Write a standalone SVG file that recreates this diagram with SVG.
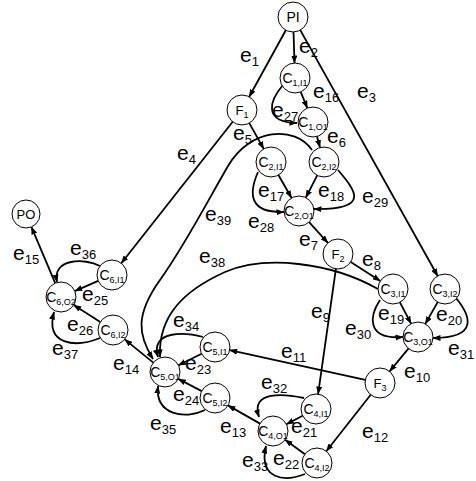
<svg xmlns="http://www.w3.org/2000/svg" width="476" height="481" viewBox="0 0 476 481">
<defs>
<marker id="ah" markerUnits="userSpaceOnUse" markerWidth="8" markerHeight="6" refX="7.5" refY="3" orient="auto">
<path d="M0,0 L8,3 L0,6 z" fill="#000"/>
</marker>
<style>
.e{fill:none;stroke:#000;stroke-width:1.8;marker-end:url(#ah)}
.n circle{fill:#fff;stroke:#000;stroke-width:1}
.n text{font-family:"Liberation Sans",Arial,sans-serif;fill:#000;text-anchor:middle}
.c{font-size:14px}
.cs{font-size:9px}
.l{font-family:"Liberation Sans",Arial,sans-serif;font-size:21px;fill:#000}
.ls{font-size:13px}
</style>
</defs>
<rect width="476" height="481" fill="#fff"/>
<g id="connectors">
<path class="e" d="M285.8,30.2 L249.2,96.8"/>
<path class="e" d="M293.5,32 L294.5,63"/>
<path class="e" d="M300.3,30.1 L437.7,276"/>
<path class="e" d="M232.7,121.8 L121.3,263.2"/>
<path class="e" d="M249.3,123.1 L263.7,148.9"/>
<path class="e" d="M317,136.5 L320,147.5"/>
<path class="e" d="M309.1,222.1 L327.9,242.9"/>
<path class="e" d="M350.7,262.1 L380.3,280.9"/>
<path class="e" d="M335.9,268.8 L318.1,394.1"/>
<path class="e" d="M408.4,348.6 L389.6,371.4"/>
<path class="e" d="M365.3,379.8 L229.7,350.2"/>
<path class="e" d="M370.7,394.8 L326.3,451.2"/>
<path class="e" d="M260,423.6 L228,405.4"/>
<path class="e" d="M153.3,362.6 L124.7,339.4"/>
<path class="e" d="M55.2,283.2 L31.4,226.9"/>
<path class="e" d="M300.7,91.9 L307.3,108.1"/>
<path class="e" d="M278.4,175 L291.6,198"/>
<path class="e" d="M317.2,175.4 L305.8,197.6"/>
<path class="e" d="M399.9,302.3 L411.1,323.7"/>
<path class="e" d="M437.7,302.1 L425.3,323.9"/>
<path class="e" d="M302.6,415.8 L286.4,424.2"/>
<path class="e" d="M304.9,454.2 L285.1,439.8"/>
<path class="e" d="M201.6,353.7 L178.4,365.3"/>
<path class="e" d="M201.7,391.1 L178.3,378.9"/>
<path class="e" d="M98.2,280.9 L74.8,291.1"/>
<path class="e" d="M100.3,322 L73.7,305"/>
<path class="e" d="M283,85 C270,100 262,122 297,123"/>
<path class="e" d="M258,172 C248,195 250,213 284,212"/>
<path class="e" d="M338,170 C355,190 372,210 314,209"/>
<path class="e" d="M380,300 C370,315 365,340 403,337"/>
<path class="e" d="M456,298 C470,315 480,338 433,338"/>
<path class="e" d="M304,398 C285,394 250,390 259,417"/>
<path class="e" d="M305,474 C285,482 258,480 266,446"/>
<path class="e" d="M203,337 C185,332 150,330 158,357"/>
<path class="e" d="M205,410 C185,420 155,415 158,386"/>
<path class="e" d="M100,266 C85,258 52,258 57,282"/>
<path class="e" d="M100,338 C75,348 45,345 54,312"/>
<path class="e" d="M378,289 C330,262 265,255 225,272 C185,290 158,315 160,357"/>
<path class="e" d="M312,150 C295,125 250,128 228,166 S185,245 160,280 S138,335 153,359"/>
</g>
<g class="l">
<text x="240" y="62">e<tspan class="ls" dy="4">1</tspan></text>
<text x="299" y="53">e<tspan class="ls" dy="4">2</tspan></text>
<text x="357" y="98">e<tspan class="ls" dy="4">3</tspan></text>
<text x="177" y="160">e<tspan class="ls" dy="4">4</tspan></text>
<text x="233" y="140">e<tspan class="ls" dy="4">5</tspan></text>
<text x="327" y="143">e<tspan class="ls" dy="4">6</tspan></text>
<text x="299" y="246">e<tspan class="ls" dy="4">7</tspan></text>
<text x="362" y="266">e<tspan class="ls" dy="4">8</tspan></text>
<text x="311" y="318">e<tspan class="ls" dy="4">9</tspan></text>
<text x="404" y="378">e<tspan class="ls" dy="4">10</tspan></text>
<text x="281" y="358">e<tspan class="ls" dy="4">11</tspan></text>
<text x="362" y="438">e<tspan class="ls" dy="4">12</tspan></text>
<text x="220" y="433">e<tspan class="ls" dy="4">13</tspan></text>
<text x="113" y="370">e<tspan class="ls" dy="4">14</tspan></text>
<text x="13" y="260">e<tspan class="ls" dy="4">15</tspan></text>
<text x="313" y="98">e<tspan class="ls" dy="4">16</tspan></text>
<text x="258" y="197">e<tspan class="ls" dy="4">17</tspan></text>
<text x="318" y="197">e<tspan class="ls" dy="4">18</tspan></text>
<text x="378" y="320">e<tspan class="ls" dy="4">19</tspan></text>
<text x="436" y="321">e<tspan class="ls" dy="4">20</tspan></text>
<text x="291" y="433">e<tspan class="ls" dy="4">21</tspan></text>
<text x="273" y="465">e<tspan class="ls" dy="4">22</tspan></text>
<text x="185" y="370">e<tspan class="ls" dy="4">23</tspan></text>
<text x="173" y="401">e<tspan class="ls" dy="4">24</tspan></text>
<text x="82" y="301">e<tspan class="ls" dy="4">25</tspan></text>
<text x="67" y="331">e<tspan class="ls" dy="4">26</tspan></text>
<text x="272" y="117">e<tspan class="ls" dy="4">27</tspan></text>
<text x="248" y="228">e<tspan class="ls" dy="4">28</tspan></text>
<text x="362" y="203">e<tspan class="ls" dy="4">29</tspan></text>
<text x="345" y="335">e<tspan class="ls" dy="4">30</tspan></text>
<text x="448" y="355">e<tspan class="ls" dy="4">31</tspan></text>
<text x="261" y="389">e<tspan class="ls" dy="4">32</tspan></text>
<text x="242" y="467">e<tspan class="ls" dy="4">33</tspan></text>
<text x="173" y="327">e<tspan class="ls" dy="4">34</tspan></text>
<text x="150" y="430">e<tspan class="ls" dy="4">35</tspan></text>
<text x="70" y="255">e<tspan class="ls" dy="4">36</tspan></text>
<text x="52" y="355">e<tspan class="ls" dy="4">37</tspan></text>
<text x="199" y="263">e<tspan class="ls" dy="4">38</tspan></text>
<text x="205" y="221">e<tspan class="ls" dy="4">39</tspan></text>
</g>
<g id="PI" class="n"><circle cx="293" cy="17" r="15"/><text x="293" y="22" class="c">PI</text></g>
<g id="PO" class="n"><circle cx="26" cy="214" r="14"/><text x="26" y="219" style="font-size:13px">PO</text></g>
<g id="F1" class="n"><circle cx="242" cy="110" r="15"/><text x="242" y="115" style="font-size:13px">F<tspan class="cs" dy="3">1</tspan></text></g>
<g id="F2" class="n"><circle cx="338" cy="254" r="15"/><text x="338" y="259" style="font-size:13px">F<tspan class="cs" dy="3">2</tspan></text></g>
<g id="F3" class="n"><circle cx="380" cy="383" r="15"/><text x="380" y="388" style="font-size:13px">F<tspan class="cs" dy="3">3</tspan></text></g>
<g id="C1I1" class="n"><circle cx="295" cy="78" r="15"/><text x="295" y="83" class="c">C<tspan class="cs" dy="3">1,I1</tspan></text></g>
<g id="C1O1" class="n"><circle cx="313" cy="122" r="15"/><text x="313" y="127" class="c">C<tspan class="cs" dy="3">1,O1</tspan></text></g>
<g id="C2I1" class="n"><circle cx="271" cy="162" r="15"/><text x="271" y="167" class="c">C<tspan class="cs" dy="3">2,I1</tspan></text></g>
<g id="C2I2" class="n"><circle cx="324" cy="162" r="15"/><text x="324" y="167" class="c">C<tspan class="cs" dy="3">2,I2</tspan></text></g>
<g id="C2O1" class="n"><circle cx="299" cy="211" r="15"/><text x="299" y="216" class="c">C<tspan class="cs" dy="3">2,O1</tspan></text></g>
<g id="C3I1" class="n"><circle cx="393" cy="289" r="15"/><text x="393" y="294" class="c">C<tspan class="cs" dy="3">3,I1</tspan></text></g>
<g id="C3I2" class="n"><circle cx="445" cy="289" r="15"/><text x="445" y="294" class="c">C<tspan class="cs" dy="3">3,I2</tspan></text></g>
<g id="C3O1" class="n"><circle cx="418" cy="337" r="15"/><text x="418" y="342" class="c">C<tspan class="cs" dy="3">3,O1</tspan></text></g>
<g id="C4I1" class="n"><circle cx="316" cy="409" r="15"/><text x="316" y="414" class="c">C<tspan class="cs" dy="3">4,I1</tspan></text></g>
<g id="C4O1" class="n"><circle cx="273" cy="431" r="15"/><text x="273" y="436" class="c">C<tspan class="cs" dy="3">4,O1</tspan></text></g>
<g id="C4I2" class="n"><circle cx="317" cy="463" r="15"/><text x="317" y="468" class="c">C<tspan class="cs" dy="3">4,I2</tspan></text></g>
<g id="C5I1" class="n"><circle cx="215" cy="347" r="15"/><text x="215" y="352" class="c">C<tspan class="cs" dy="3">5,I1</tspan></text></g>
<g id="C5O1" class="n"><circle cx="165" cy="372" r="15"/><text x="165" y="377" class="c">C<tspan class="cs" dy="3">5,O1</tspan></text></g>
<g id="C5I2" class="n"><circle cx="215" cy="398" r="15"/><text x="215" y="403" class="c">C<tspan class="cs" dy="3">5,I2</tspan></text></g>
<g id="C6I1" class="n"><circle cx="112" cy="275" r="15"/><text x="112" y="280" class="c">C<tspan class="cs" dy="3">6,I1</tspan></text></g>
<g id="C6O2" class="n"><circle cx="61" cy="297" r="15"/><text x="61" y="302" class="c">C<tspan class="cs" dy="3">6,O2</tspan></text></g>
<g id="C6I2" class="n"><circle cx="113" cy="330" r="15"/><text x="113" y="335" class="c">C<tspan class="cs" dy="3">6,I2</tspan></text></g>
</svg>
